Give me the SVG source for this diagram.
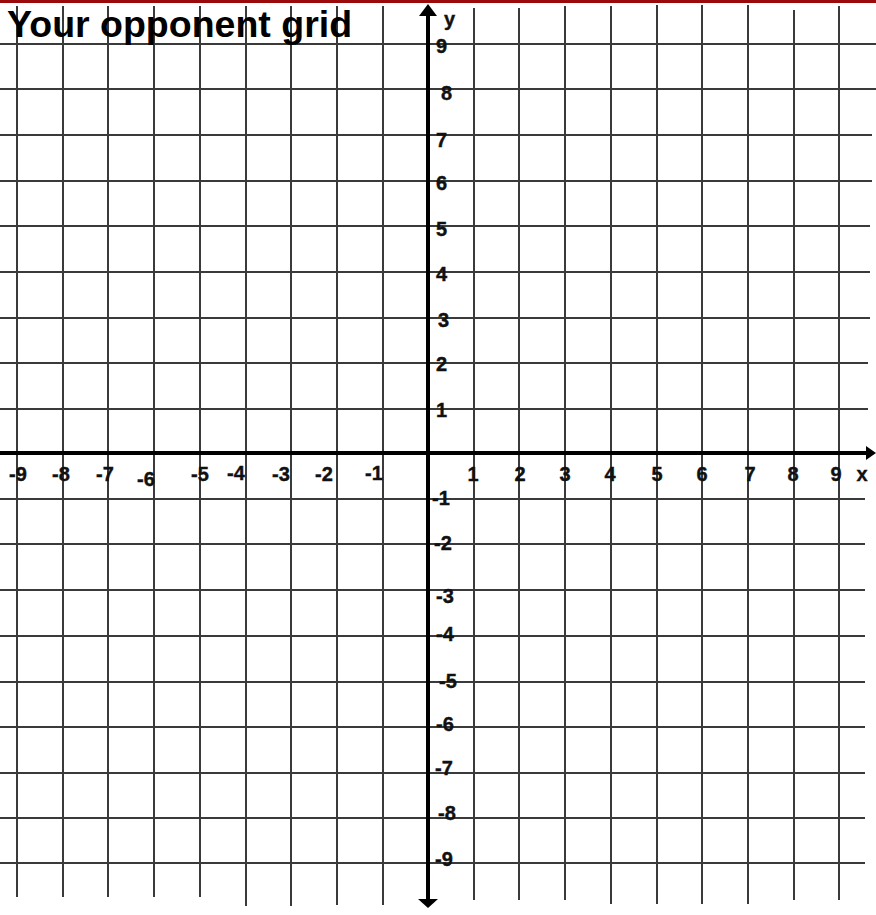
<svg xmlns="http://www.w3.org/2000/svg" width="876" height="915" viewBox="0 0 876 915">
<style>
.g{stroke:#3a3a3a;stroke-width:2;fill:none}
.ax{stroke:#000;stroke-width:4;fill:none}
.ah{fill:#000}
.lb{font-family:"Liberation Sans",Arial,sans-serif;font-weight:bold;font-size:20px;fill:#111;stroke:#111;stroke-width:0.4}
.ttl{font-family:"Liberation Sans",Arial,sans-serif;font-weight:bold;font-size:37.5px;fill:#000}
</style>
<rect x="0" y="0" width="876" height="915" fill="#fff"/>
<rect x="0" y="0" width="876" height="3" fill="#9b0a0a"/>
<g id="grid">
<path class="g" d="M17 6V897M63 6V897M108 6V897M154 6V897M200 6V897M246 6V906M291 6V906M337 6V905M383 6V905M474 8V900M519 8V900M565 6V900M611 6V904M657 5V904M702 5V904M748 5V904M794 10V900M839 6V900"/>
<path class="g" d="M0 44H876M0 89H876M0 135H872M0 181H872M0 226H870M0 272H870M0 318H870M0 363H868M0 409H868M0 499H865M0 544H865M0 590H865M0 636H865M0 682H865M0 727H865M0 773H865M0 818H865M0 863H865"/>
</g>
<g id="axes">
<line class="ax" x1="0" y1="453" x2="868" y2="453"/>
<polygon class="ah" points="876,453 866,446 866,460"/>
<line class="ax" x1="428" y1="13" x2="428" y2="900"/>
<polygon class="ah" points="428,4 419,16 437,16"/>
<polygon class="ah" points="428,908 418,899 438,899"/>
</g>
<g id="title"><text class="ttl" x="7" y="37">Your opponent grid</text></g>
<g id="xlabels">
<text class="lb" x="9" y="481">-9</text>
<text class="lb" x="52" y="481">-8</text>
<text class="lb" x="96" y="481">-7</text>
<text class="lb" x="137" y="486">-6</text>
<text class="lb" x="191" y="481">-5</text>
<text class="lb" x="227" y="480">-4</text>
<text class="lb" x="272" y="481">-3</text>
<text class="lb" x="315" y="481">-2</text>
<text class="lb" x="365" y="480">-1</text>
<g text-anchor="middle">
<text class="lb" x="473" y="481">1</text>
<text class="lb" x="520" y="481">2</text>
<text class="lb" x="565" y="481">3</text>
<text class="lb" x="610" y="481">4</text>
<text class="lb" x="657" y="481">5</text>
<text class="lb" x="702" y="481">6</text>
<text class="lb" x="750" y="481">7</text>
<text class="lb" x="793" y="481">8</text>
<text class="lb" x="836" y="481">9</text>
<text class="lb" x="862" y="481">x</text>
</g>
</g>
<g id="ylabels">
<text class="lb" x="444" y="26">y</text>
<text class="lb" x="436" y="53">9</text>
<text class="lb" x="441" y="100">8</text>
<text class="lb" x="436" y="147">7</text>
<text class="lb" x="436" y="190">6</text>
<text class="lb" x="436" y="236">5</text>
<text class="lb" x="436" y="281">4</text>
<text class="lb" x="438" y="327">3</text>
<text class="lb" x="436" y="371">2</text>
<text class="lb" x="436" y="417">1</text>
<text class="lb" x="432" y="505">-1</text>
<text class="lb" x="434" y="550">-2</text>
<text class="lb" x="436" y="603">-3</text>
<text class="lb" x="436" y="641">-4</text>
<text class="lb" x="439" y="688">-5</text>
<text class="lb" x="436" y="731">-6</text>
<text class="lb" x="435" y="775">-7</text>
<text class="lb" x="438" y="820">-8</text>
<text class="lb" x="435" y="866">-9</text>
</g>
</svg>
